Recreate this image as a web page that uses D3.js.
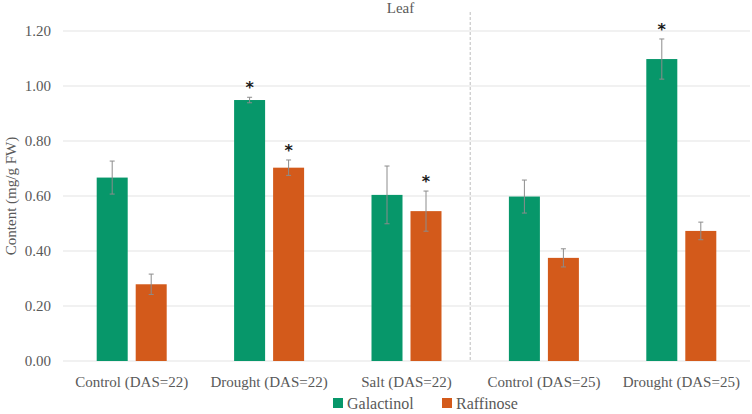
<!DOCTYPE html>
<html><head><meta charset="utf-8">
<script src="https://cdn.jsdelivr.net/npm/d3@7"></script>
<style>body{margin:0;background:#fff}svg{display:block}text{font-family:"Liberation Serif",serif;fill:#595959}</style>
</head><body><svg id="c" width="752" height="414"></svg>
<script>
const categories = ["Control (DAS=22)", "Drought (DAS=22)", "Salt (DAS=22)", "Control (DAS=25)", "Drought (DAS=25)"];
const seriesNames = ["Galactinol", "Raffinose"];
const galactinol = [0.667, 0.949, 0.604, 0.598, 1.098];
const galactinolErr = [0.060, 0.010, 0.105, 0.060, 0.073];
const raffinose = [0.279, 0.703, 0.545, 0.375, 0.473];
const raffinoseErr = [0.037, 0.028, 0.073, 0.033, 0.032];
const galactinolSig = [false, true, false, false, true];
const raffinoseSig = [false, true, true, false, false];
const yTicks = [0, 0.2, 0.4, 0.6, 0.8, 1.0, 1.2];
const colors = ["#07976A", "#D35A1B"];
const title = "Leaf";
const yLabel = "Content (mg/g FW)";
const FONT = "'Liberation Serif', serif";

const svg = d3.select("#c");
const m = {l: 63, r: 2, t: 31, b: 53};
const W = 752, H = 414;
const x = d3.scaleBand().domain(categories).range([m.l, W - m.r]).padding(0);
const y = d3.scaleLinear().domain([0, 1.2]).range([H - m.b, m.t]);

// gridlines
svg.append("g").selectAll("line").data(yTicks).join("line")
  .attr("x1", m.l).attr("x2", W - m.r)
  .attr("y1", d => y(d)).attr("y2", d => y(d))
  .attr("stroke", "#e3e3e3").attr("stroke-width", 1);

// y axis labels
const yAxis = d3.axisLeft(y).tickValues(yTicks).tickFormat(d3.format(".2f")).tickSize(0).tickPadding(12);
const ya = svg.append("g").attr("transform", `translate(${m.l},0)`).call(yAxis);
ya.select(".domain").remove();
ya.selectAll("text").style("font-family", FONT).style("font-size", "15px").attr("fill", "#595959");

// x axis labels
const xAxis = d3.axisBottom(x).tickSize(0).tickPadding(15);
const xa = svg.append("g").attr("transform", `translate(0,${H - m.b})`).call(xAxis);
xa.select(".domain").remove();
xa.selectAll("text").style("font-family", FONT).style("font-size", "15px").attr("fill", "#595959");

// dashed separator
svg.append("line")
  .attr("x1", x(categories[3]) - 5).attr("x2", x(categories[3]) - 5)
  .attr("y1", 12).attr("y2", y(0))
  .attr("stroke", "#bdbdbd").attr("stroke-dasharray", "3,2").attr("stroke-width", 1);

const bw = 31, gap = 8;
const series = [
  {vals: galactinol, err: galactinolErr, sig: galactinolSig, off: -gap/2 - bw},
  {vals: raffinose, err: raffinoseErr, sig: raffinoseSig, off: gap/2}
];
series.forEach((s, si) => {
  const g = svg.append("g");
  const data = categories.map((c, i) => ({c, v: s.vals[i], e: s.err[i], sig: s.sig[i]}));
  const cx = d => x(d.c) + x.bandwidth()/2 + s.off;
  g.selectAll("rect").data(data).join("rect")
    .attr("x", cx).attr("width", bw)
    .attr("y", d => y(d.v)).attr("height", d => y(0) - y(d.v))
    .attr("fill", colors[si]);
  const eg = g.selectAll("g.err").data(data).join("g").attr("class", "err");
  eg.append("line").attr("x1", d => cx(d) + bw/2).attr("x2", d => cx(d) + bw/2)
    .attr("y1", d => y(d.v - d.e)).attr("y2", d => y(d.v + d.e))
    .attr("stroke", "#8c8c8c").attr("stroke-width", 1);
  eg.append("line").attr("x1", d => cx(d) + bw/2 - 2.5).attr("x2", d => cx(d) + bw/2 + 2.5)
    .attr("y1", d => y(d.v + d.e)).attr("y2", d => y(d.v + d.e))
    .attr("stroke", "#8c8c8c").attr("stroke-width", 1);
  eg.append("line").attr("x1", d => cx(d) + bw/2 - 2.5).attr("x2", d => cx(d) + bw/2 + 2.5)
    .attr("y1", d => y(d.v - d.e)).attr("y2", d => y(d.v - d.e))
    .attr("stroke", "#8c8c8c").attr("stroke-width", 1);
  g.selectAll("text.star").data(data.filter(d => d.sig)).join("text").attr("class", "star")
    .attr("x", d => cx(d) + bw/2).attr("y", d => y(d.v + d.e) - 4)
    .attr("text-anchor", "middle").style("font-family", "'DejaVu Sans', sans-serif")
    .style("font-size", "16px").style("font-weight", "bold").style("fill", "#1a1a1a").text("*");
});

// title
svg.append("text").attr("x", (m.l + W - m.r)/2 - 6).attr("y", 13).attr("text-anchor", "middle")
  .style("font-family", FONT).style("font-size", "15px").text(title);

// y label
svg.append("text").attr("transform", `translate(16,${(m.t + H - m.b)/2}) rotate(-90)`)
  .attr("text-anchor", "middle").style("font-family", FONT).style("font-size", "15px").text(yLabel);

// legend
const leg = svg.append("g").attr("transform", "translate(333,409)");
const lx = [0, 109];
seriesNames.forEach((n, i) => {
  leg.append("rect").attr("x", lx[i]).attr("y", -11).attr("width", 10).attr("height", 10).attr("fill", colors[i]);
  leg.append("text").attr("x", lx[i] + 14).attr("y", 0).style("font-family", FONT).style("font-size", "16px").text(n);
});
</script></body></html>
